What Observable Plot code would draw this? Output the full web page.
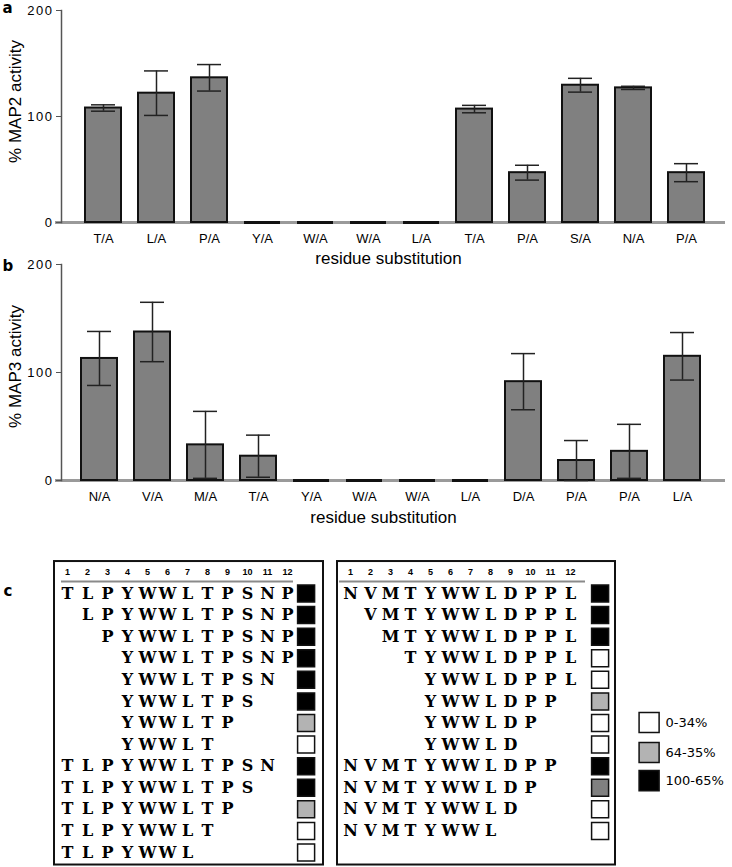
<!DOCTYPE html>
<html><head><meta charset="utf-8">
<script src="https://cdn.jsdelivr.net/npm/d3@7"></script>
<script src="https://cdn.jsdelivr.net/npm/@observablehq/plot@0.6"></script>
<style>
body{margin:0;background:#fff;}
#root{position:relative;width:732px;height:867px;overflow:hidden;background:#fff;}
#root > svg{position:absolute;left:0;}
#root svg g[aria-label="y-axis tick label"] text{letter-spacing:1.5px;}
</style></head><body><div id="root"></div>
<script>
// ---- Panel a: MAP2 ----
const labelsA = ["T/A","L/A","P/A","Y/A","W/A","W/A","L/A","T/A","P/A","S/A","N/A","P/A"];
const valuesA = [108, 122, 136.5, 0, 0, 0, 0, 107, 47, 129.5, 127, 47];
const errorsA = [3, 21, 12.5, 0, 0, 0, 0, 3.5, 7, 6.5, 1.5, 8.5];
// ---- Panel b: MAP3 ----
const labelsB = ["N/A","V/A","M/A","T/A","Y/A","W/A","W/A","L/A","D/A","P/A","P/A","L/A"];
const valuesB = [113, 137.5, 33, 22.5, 0, 0, 0, 0, 91.5, 18.5, 27, 115];
const errorsB = [25, 27.5, 31, 19.5, 0, 0, 0, 0, 26, 18.5, 25, 22];
const yTicks = [0, 100, 200];
const xTitle = "residue substitution";

// ---- Panel c: truncation series ----
const positions = d3.range(1, 13);
const leftSeqs = ["TLPYWWLTPSNP","LPYWWLTPSNP","PYWWLTPSNP","YWWLTPSNP","YWWLTPSN","YWWLTPS","YWWLTP","YWWLT","TLPYWWLTPSN","TLPYWWLTPS","TLPYWWLTP","TLPYWWLT","TLPYWWL"];
const leftStarts = [1,2,3,4,4,4,4,4,1,1,1,1,1];
const leftLevels = ["high","high","high","high","high","high","mid","low","high","high","mid","low","low"];
const rightSeqs = ["NVMTYWWLDPPL","VMTYWWLDPPL","MTYWWLDPPL","TYWWLDPPL","YWWLDPPL","YWWLDPP","YWWLDP","YWWLD","NVMTYWWLDPP","NVMTYWWLDP","NVMTYWWLD","NVMTYWWL"];
const rightStarts = [1,2,3,4,5,5,5,5,1,1,1,1];
const rightLevels = ["high","high","high","low","low","mid","low","low","high","dark","low","low"];
const legendLevels = ["low","mid","high"];
const legendLabels = ["0-34%","64-35%","100-65%"];
const levelDomain = ["high","mid","dark","low"];
const levelColors = ["#000000","#b3b3b3","#808080","#ffffff"];

const root = document.getElementById("root");
const sans = "'Liberation Sans', Arial, sans-serif";

function barPanel(labels, values, errors, o) {
  const data = labels.map((l, i) => ({i, label: l, v: values[i], e: errors[i]}));
  const withErr = data.filter(d => d.e > 0);
  const zero = data.filter(d => d.v === 0);
  const nonzero = data.filter(d => d.v > 0);
  return Plot.plot({
    width: 732, height: o.height,
    marginTop: o.marginTop, marginBottom: o.marginBottom, marginLeft: 61, marginRight: 7,
    style: {fontFamily: sans, fontSize: "13px", color: "#000", background: "transparent", overflow: "visible"},
    x: {type: "band", domain: data.map(d => d.i), range: o.xRange, paddingInner: 0.33, paddingOuter: 0.165, align: 0.5},
    y: {domain: [0, 200]},
    marks: [
      Plot.ruleY([0], {stroke: "#9a9a9a", strokeWidth: 3, insetLeft: -6}),
      Plot.barY(nonzero, {x: "i", y: "v", fill: "#808080", stroke: "#111", strokeWidth: 2}),
      Plot.tickY(zero, {x: "i", y: "v", stroke: "#111", strokeWidth: 3}),
      Plot.ruleX(withErr, {x: "i", y1: d => d.v - d.e, y2: d => d.v + d.e, stroke: "#222", strokeWidth: 1.5}),
      Plot.tickY(withErr, {x: "i", y: d => d.v + d.e, stroke: "#222", strokeWidth: 1.5, insetLeft: 6, insetRight: 6}),
      Plot.tickY(withErr, {x: "i", y: d => d.v - d.e, stroke: "#222", strokeWidth: 1.5, insetLeft: 6, insetRight: 6}),
      Plot.frame({anchor: "left", stroke: "#555", strokeWidth: 1.5}),
      Plot.axisY({ticks: yTicks, tickSize: 5, tickPadding: 3, label: null, stroke: "#555", fontSize: 13}),
      Plot.axisX({tickSize: 0, tickPadding: 11, tickFormat: i => labels[i], label: null, fontSize: 13}),
      Plot.text([o.yLabel], {frameAnchor: "left", dx: -46, dy: o.yLabelDy, rotate: -90, textAnchor: "middle", lineAnchor: "middle", fontSize: 17}),
      Plot.text([xTitle], {frameAnchor: "bottom", dy: o.titleDy, dx: o.titleDx, textAnchor: "middle", lineAnchor: "middle", fontSize: 17}),
      Plot.text([o.letter], {frameAnchor: "top-left", dx: -59, dy: o.letterDy, textAnchor: "start", lineAnchor: "bottom", fontSize: 15, fontWeight: "bold", fontFamily: "'DejaVu Sans', sans-serif"})
    ]
  });
}

const a = barPanel(labelsA, valuesA, errorsA, {
  height: 270, marginTop: 10, marginBottom: 48, xRange: [71, 718],
  yLabel: "% MAP2 activity", yLabelDy: -15, titleDy: 36, titleDx: -5, letter: "a", letterDy: 2
});
a.style.top = "0px";
root.appendChild(a);

const b = barPanel(labelsB, valuesB, errorsB, {
  height: 275, marginTop: 9, marginBottom: 50, xRange: [69.5, 711.5],
  yLabel: "% MAP3 activity", yLabelDy: -6, titleDy: 37, titleDx: -10, letter: "b", letterDy: 6
});
b.style.top = "255px";
root.appendChild(b);

// ---- Panel c ----
const rightOffset = 14.15; // column offset of right box
const boxes = [
  {x1: 0.35, x2: 13.8, rule1: 0.7, rule2: 12.3},
  {x1: 14.5, x2: 28.4, rule1: 14.6, rule2: 26.9}
];
const letters = [];
const squares = [];
function addBox(seqs, starts, levels, off, sqCol) {
  seqs.forEach((s, r) => {
    [...s].forEach((ch, k) => letters.push({x: starts[r] + k + off, y: r + 1, t: ch}));
    squares.push({x: sqCol + off, y: r + 1, level: levels[r]});
  });
}
addBox(leftSeqs, leftStarts, leftLevels, 0, 12.93);
addBox(rightSeqs, rightStarts, rightLevels, rightOffset, 13.48);
const headers = [...positions.map(p => ({x: p, t: String(p)})), ...positions.map(p => ({x: p + rightOffset, t: String(p)}))];
const legendRows = [6.98, 8.37, 9.67];
const legend = legendLevels.map((l, i) => ({level: l, label: legendLabels[i], y: legendRows[i]}));

const c = Plot.plot({
  width: 732, height: 317,
  marginTop: 0, marginBottom: 0, marginLeft: 0, marginRight: 0,
  style: {fontFamily: sans, background: "transparent", overflow: "visible"},
  x: {domain: [1, 12], range: [67, 287], axis: null},
  y: {domain: [0, 13], range: [21.4, 302], axis: null},
  color: {domain: levelDomain, range: levelColors},
  marks: [
    Plot.rect(boxes, {x1: "x1", x2: "x2", y1: () => -0.48, y2: () => 13.58, fill: "none", stroke: "#111", strokeWidth: 2}),
    Plot.ruleY(boxes, {x1: "rule1", x2: "rule2", y: () => 0.44, stroke: "#8a8a8a", strokeWidth: 2}),
    Plot.text(headers, {x: "x", y: () => 0, text: "t", fontSize: 9, fontWeight: "bold"}),
    Plot.text(letters, {x: "x", y: "y", text: "t", fontSize: 16, fontWeight: "bold", fontFamily: "'DejaVu Serif', serif"}),
    Plot.dot(squares, {x: "x", y: "y", symbol: "square", r: 9.6, fill: "level", stroke: "#111", strokeWidth: 1.5}),
    Plot.dot(legend, {x: () => 30.08, y: "y", symbol: "square", r: 11.3, fill: "level", stroke: "#111", strokeWidth: 1.5}),
    Plot.text(legend, {x: () => 30.9, y: "y", text: "label", textAnchor: "start", fontSize: 13, fontFamily: "'DejaVu Sans', sans-serif"}),
    Plot.text(["c"], {frameAnchor: "top-left", dx: 3, dy: 45, textAnchor: "start", lineAnchor: "bottom", fontSize: 15, fontWeight: "bold", fontFamily: "'DejaVu Sans', sans-serif"})
  ]
});
c.style.top = "550px";
root.appendChild(c);
</script>
</body></html>
